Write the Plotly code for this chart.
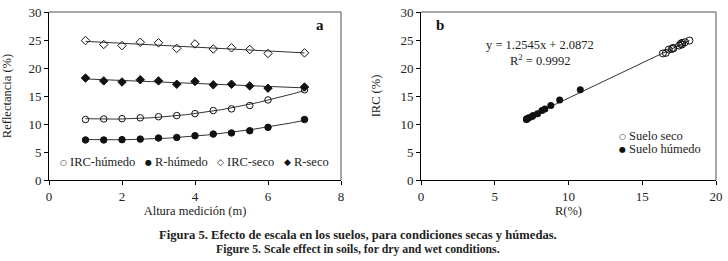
import numpy as np
import plotly.graph_objects as go

# ---- data ----
altura = [1, 1.5, 2, 2.5, 3, 3.5, 4, 4.5, 5, 5.5, 6, 7]
irc_humedo = [10.8, 10.9, 10.95, 11.1, 11.3, 11.5, 11.85, 12.4, 12.7, 13.3, 14.3, 16.1]
r_humedo = [7.15, 7.15, 7.2, 7.3, 7.5, 7.6, 7.9, 8.2, 8.4, 8.8, 9.4, 10.8]
irc_seco = [24.9, 24.2, 24.0, 24.6, 24.5, 23.5, 24.3, 23.4, 23.6, 23.3, 22.6, 22.7]
r_seco = [18.2, 17.7, 17.5, 17.9, 17.7, 17.1, 17.6, 17.0, 17.1, 16.8, 16.4, 16.6]

reg_slope = 1.2545
reg_intercept = 2.0872
reg_r2 = 0.9992

legend_a = ["IRC-húmedo", "R-húmedo", "IRC-seco", "R-seco"]
legend_b = ["Suelo seco", "Suelo húmedo"]

FONT = "Liberation Serif"
W, H = 728, 261
TXT = "#222222"

fig = go.Figure()

# ---- panel a: trend lines ----
xs = np.linspace(min(altura), max(altura), 80)
for vals, deg in [(irc_seco, 1), (r_seco, 1), (irc_humedo, 2), (r_humedo, 2)]:
    c = np.polyfit(altura, vals, deg)
    fig.add_trace(go.Scatter(x=xs, y=np.polyval(c, xs), mode="lines",
                             line=dict(color="#333333", width=1),
                             showlegend=False, hoverinfo="skip",
                             xaxis="x", yaxis="y"))

series_a = [
    (legend_a[0], irc_humedo, "circle-open"),
    (legend_a[1], r_humedo, "circle"),
    (legend_a[2], irc_seco, "diamond-open"),
    (legend_a[3], r_seco, "diamond"),
]
for name, vals, sym in series_a:
    fig.add_trace(go.Scatter(x=altura, y=vals, mode="markers", name=name,
                             marker=dict(symbol=sym, size=6.5, color="#111111",
                                         line=dict(color="#111111", width=1)),
                             showlegend=False, xaxis="x", yaxis="y"))

# ---- panel b ----
rx = np.linspace(min(r_humedo + r_seco), max(r_humedo + r_seco), 50)
fig.add_trace(go.Scatter(x=rx, y=reg_slope * rx + reg_intercept, mode="lines",
                         line=dict(color="#333333", width=1),
                         showlegend=False, hoverinfo="skip",
                         xaxis="x2", yaxis="y2"))
fig.add_trace(go.Scatter(x=r_seco, y=irc_seco, mode="markers", name=legend_b[0],
                         marker=dict(symbol="circle-open", size=7, color="#111111",
                                     line=dict(color="#111111", width=1)),
                         showlegend=False, xaxis="x2", yaxis="y2"))
fig.add_trace(go.Scatter(x=r_humedo, y=irc_humedo, mode="markers", name=legend_b[1],
                         marker=dict(symbol="circle", size=7, color="#111111"),
                         showlegend=False, xaxis="x2", yaxis="y2"))

axis_common = dict(showline=True, linecolor="black", linewidth=1, ticks="outside",
                   ticklen=4, tickcolor="black", showgrid=False, zeroline=False,
                   tickfont=dict(family=FONT, size=13, color=TXT),
                   title_font=dict(family=FONT, size=12.5, color=TXT))

ydom = [1 - 180 / H, 1 - 12 / H]
fig.update_layout(
    width=W, height=H,
    margin=dict(l=0, r=0, t=0, b=0, autoexpand=False),
    paper_bgcolor="white", plot_bgcolor="white",
    font=dict(family=FONT, size=13, color=TXT),
    showlegend=False,
    xaxis=dict(domain=[49 / W, 341 / W], range=[0, 8], dtick=2,
               title=dict(text="Altura medición (m)", standoff=2), anchor="y", **axis_common),
    yaxis=dict(domain=ydom, range=[0, 30], dtick=5,
               title=dict(text="Reflectancia (%)", standoff=18), anchor="x", **axis_common),
    xaxis2=dict(domain=[421 / W, 716 / W], range=[0, 20], dtick=5,
                title=dict(text="R(%)", standoff=2), anchor="y2", **axis_common),
    yaxis2=dict(domain=ydom, range=[0, 30], dtick=5,
                title=dict(text="IRC (%)", standoff=17), anchor="x2", **axis_common),
)

# gray frame on top and right of each plot area
for xr, yr in [("x domain", "y domain"), ("x2 domain", "y2 domain")]:
    fig.add_shape(type="line", xref=xr, yref=yr, x0=0, x1=1, y0=1, y1=1,
                  line=dict(color="#8a8a8a", width=1.5))
    fig.add_shape(type="line", xref=xr, yref=yr, x0=1, x1=1, y0=0, y1=1,
                  line=dict(color="#8a8a8a", width=1.5))

# ---- legends (symbol + label) ----
def legend_item(label, sym, sym_size, mx, tx, py):
    fig.add_annotation(text=sym, x=mx / W, y=1 - py / H, xref="paper", yref="paper",
                       showarrow=False, xanchor="center", yanchor="middle",
                       font=dict(family="DejaVu Sans", size=sym_size, color="#111111"))
    fig.add_annotation(text=label, x=tx / W, y=1 - py / H, xref="paper", yref="paper",
                       showarrow=False, xanchor="left", yanchor="middle",
                       font=dict(family=FONT, size=12.5, color=TXT))

syms_a = [("○", 8), ("●", 8), ("◇", 9), ("◆", 9)]
mk_a = [63, 148, 220, 287]
for lab, (s, ss), m in zip(legend_a, syms_a, mk_a):
    legend_item(lab, s, ss, m, m + 5, 162)
legend_item(legend_b[0], "○", 8, 622, 627, 136)
legend_item(legend_b[1], "●", 8, 622, 627, 149)

fig.add_annotation(text="<b>a</b>", x=7.42, y=27.7, xref="x", yref="y",
                   showarrow=False, font=dict(family=FONT, size=15, color="#111111"))
fig.add_annotation(text="<b>b</b>", x=1.3, y=27.7, xref="x2", yref="y2",
                   showarrow=False, font=dict(family=FONT, size=15, color="#111111"))
fig.add_annotation(text=f"y = {reg_slope}x + {reg_intercept}",
                   x=8.05, y=(180 - 45) / 168 * 30, xref="x2", yref="y2", showarrow=False,
                   font=dict(family=FONT, size=12.5, color=TXT))
fig.add_annotation(text=f"R<sup>2</sup> = {reg_r2}",
                   x=8.05, y=(180 - 60) / 168 * 30, xref="x2", yref="y2", showarrow=False,
                   font=dict(family=FONT, size=12.5, color=TXT))

fig.add_annotation(text="<b>Figura 5. Efecto de escala en los suelos, para condiciones secas y húmedas.</b>",
                   x=358 / W, y=1 - 235 / H, xref="paper", yref="paper", showarrow=False,
                   xanchor="center", yanchor="middle",
                   font=dict(family=FONT, size=12.6, color=TXT))
fig.add_annotation(text="<b>Figure 5. Scale effect in soils, for dry and wet conditions.</b>",
                   x=358 / W, y=1 - 249 / H, xref="paper", yref="paper", showarrow=False,
                   xanchor="center", yanchor="middle",
                   font=dict(family=FONT, size=11.8, color=TXT))

fig.write_html("out.html", config={"displayModeBar": False},
               post_script="document.body.style.margin='0';")
